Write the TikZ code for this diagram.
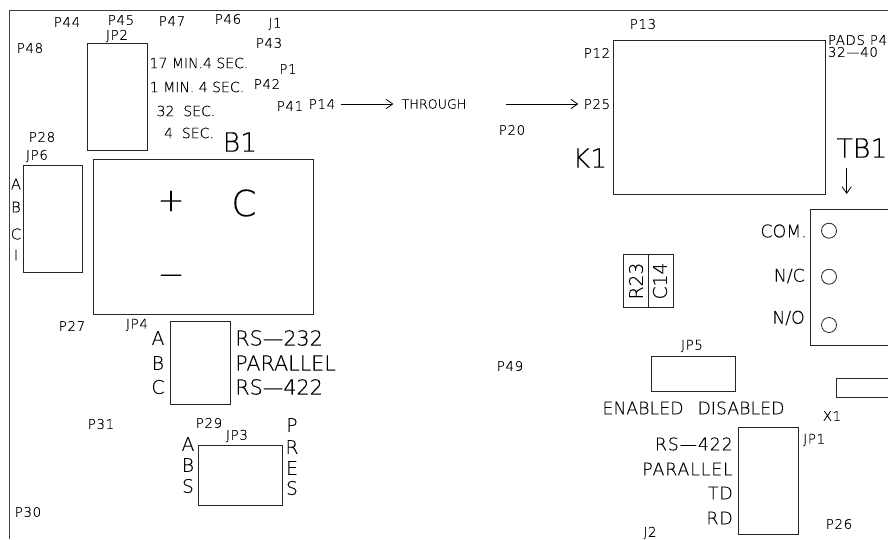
\documentclass[tikz,border=0pt]{standalone}
\usepackage{fontspec}
\setmainfont{DejaVu Sans ExtraLight}
\newfontfamily\cadwide[LetterSpace=5,FakeBold=0.15]{DejaVu Sans ExtraLight}
\newfontfamily\cadplain[FakeBold=0.15]{DejaVu Sans ExtraLight}
\usetikzlibrary{arrows.meta}
\tikzset{
  board/.style={draw=black!75, line width=0.7pt},
  partbox/.style={draw=black!85, line width=0.6pt},
  feed/.style={draw=black, line width=0.6pt, -{Straight Barb[length=5pt,width=7pt]}},
  tinylab/.style={inner sep=0pt, font=\cadwide\fontsize{10}{10}\selectfont},
  thrulab/.style={inner sep=0pt, font=\cadplain\fontsize{9.5}{9.5}\selectfont},
  jumplab/.style={inner sep=0pt, font=\cadplain\fontsize{10.5}{10.5}\selectfont},
  letterlab/.style={inner sep=0pt, font=\cadplain\fontsize{11}{11}\selectfont},
  midlab/.style={inner sep=0pt, font=\cadwide\fontsize{13}{13}\selectfont},
  enlab/.style={inner sep=0pt, font=\cadplain\fontsize{13}{13}\selectfont},
  sidelab/.style={inner sep=0pt, font=\cadplain\fontsize{14}{14}\selectfont},
  widelab/.style={inner sep=0pt, font=\cadplain\fontsize{15.5}{15.5}\selectfont},
  biglab/.style={inner sep=0pt, font=\cadplain\fontsize{20}{20}\selectfont},
  capclab/.style={inner sep=0pt, font=\cadplain\fontsize{27}{27}\selectfont},
  signlab/.style={inner sep=0pt, font=\cadplain\fontsize{24}{24}\selectfont}
}
\begin{document}
\begin{tikzpicture}[x=0.75pt, y=-0.75pt]
  \useasboundingbox (0,0) rectangle (888,539);

  % board edge
  \draw[board] (888,10) -- (9,10) -- (9,539);

  % boxes
  \draw[partbox] (87.5,43.5) rectangle (147.5,150.5);
  \draw[partbox] (23,165) rectangle (82.5,272.5);
  \draw[partbox] (93.5,159) rectangle (313,314);
  \draw[partbox] (170,321) rectangle (230,404.5);
  \draw[partbox] (198.5,445.5) rectangle (282.5,505);
  \draw[partbox] (613.5,40) rectangle (825.5,194);
  \draw[partbox] (888,209.5) -- (810.3,209.5) -- (810.3,345) -- (888,345);
  \draw[partbox] (623.7,254) rectangle (648,307.7);
  \draw[partbox] (648,254) rectangle (673,307.7);
  \draw[partbox] (651.3,356) rectangle (735.3,391.7);
  \draw[partbox] (888,378.3) -- (836.3,378.3) -- (836.3,397.3) -- (888,397.3);
  \draw[partbox] (738.3,427.3) rectangle (798.3,534.3);

  % terminals
  \draw[partbox] (829,230.7) circle (7.5);
  \draw[partbox] (829,276.7) circle (7.5);
  \draw[partbox] (829,325) circle (7.5);

  % top left pads
  \node[tinylab] (p44) at (67,22) {P44};
  \node[tinylab] (p45) at (121,20) {P45};
  \node[tinylab] (jp2) at (117,36) {JP2};
  \node[tinylab] (p47) at (172,21) {P47};
  \node[tinylab] (p46) at (228,19) {P46};
  \node[tinylab] (j1) at (275,24) {J1};
  \node[tinylab] (p43) at (269,43) {P43};
  \node[tinylab] (p48) at (30,48) {P48};
  \node[tinylab] (p1) at (288,69) {P1};
  \node[tinylab] (p42) at (267,84) {P42};
  \node[tinylab] (p41) at (290,106) {P41};
  \node[tinylab] (p14) at (322,104) {P14};
  \node[thrulab] (through) at (434,104) {THROUGH};
  \node[tinylab] (p28) at (42,137) {P28};
  \node[tinylab] (jp6) at (37,156) {JP6};

  % JP2 settings
  \node[jumplab] (min17) at (199,63) {17 MIN.4 SEC.};
  \node[jumplab] (min1) at (197,87) {1 MIN. 4 SEC.};
  \node[jumplab] (sec32) at (186,111) {32 \ SEC.};
  \node[jumplab] (sec4) at (189,133) {4 \ SEC.};

  % JP6 letters
  \node[letterlab] (jp6a) at (16,184) {A};
  \node[letterlab] (jp6b) at (16,207) {B};
  \node[letterlab] (jp6c) at (16,234) {C};
  \node[letterlab] (jp6i) at (16,255) {I};

  % B1
  \node[biglab] (b1) at (240,142) {B1};
  \node[capclab] (b1c) at (244,203) {C};
  \node[signlab] (plus) at (171,201) {+};
  \node[signlab] (minus) at (171,280) {−};

  % JP4
  \node[tinylab] (p27) at (72,326) {P27};
  \node[tinylab] (jp4) at (137,325) {JP4};
  \node[sidelab] (jp4a) at (158,338) {A};
  \node[sidelab] (jp4b) at (158,363) {B};
  \node[sidelab] (jp4c) at (158,387) {C};
  \node[widelab, anchor=west] (jp4x) at (235,338) {RS—232};
  \node[widelab, anchor=west] (jp4y) at (235,363) {PARALLEL};
  \node[widelab, anchor=west] (jp4z) at (235,387) {RS—422};

  % JP3
  \node[tinylab] (p31) at (101,424) {P31};
  \node[tinylab] (p29) at (209,423) {P29};
  \node[tinylab] (jp3) at (237,436) {JP3};
  \node[sidelab] (absa) at (188,444) {A};
  \node[sidelab] (absb) at (188,465) {B};
  \node[sidelab] (abss) at (188,486) {S};
  \node[sidelab] (presp) at (292,425) {P};
  \node[sidelab] (presr) at (292,447) {R};
  \node[sidelab] (prese) at (292,468) {E};
  \node[sidelab] (press) at (292,488) {S};
  \node[tinylab] (p30) at (28,512) {P30};

  % K1
  \node[tinylab] (p13) at (643,24) {P13};
  \node[tinylab] (p12) at (597,53) {P12};
  \node[tinylab] (p25) at (597,104) {P25};
  \node[tinylab] (p20) at (512,130) {P20};
  \node[biglab] (k1) at (590,158) {K1};
  \node[tinylab, anchor=west] (pads) at (827.7,40) {PADS P4};
  \node[tinylab, anchor=west] (pins) at (827.7,52) {32—40};

  % TB1
  \node[biglab] (tb1) at (862,148) {TB1};
  \node[enlab, anchor=east] (com) at (807,231) {COM.};
  \node[enlab, anchor=east] (nc) at (805,276) {N/C};
  \node[enlab, anchor=east] (no) at (805,318) {N/O};

  % small parts
  \node[sidelab, rotate=90] (r23) at (636,281) {R23};
  \node[sidelab, rotate=90] (c14) at (660,281) {C14};

  % JP5
  \node[tinylab] (jp5) at (692,346) {JP5};
  \node[enlab] (enabled) at (643,408) {ENABLED};
  \node[enlab] (disabled) at (741,408) {DISABLED};
  \node[tinylab] (x1) at (832,416) {X1};
  \node[tinylab] (p49) at (510,366) {P49};

  % JP1
  \node[midlab, anchor=east] (jp1x) at (733,444) {RS—422};
  \node[midlab, anchor=east] (jp1y) at (733,469) {PARALLEL};
  \node[midlab, anchor=east] (jp1z) at (733,493) {TD};
  \node[midlab, anchor=east] (jp1w) at (733,518) {RD};
  \node[tinylab, anchor=west] (jp1) at (803,440) {JP1};
  \node[tinylab] (p26) at (839,524) {P26};
  \node[tinylab] (j2) at (650,533) {J2};

  % arrows
  \coordinate (thruend) at (506,104);
  \coordinate (tb1tail) at (846.7,168);
  \coordinate (tb1tip) at (846.7,194);
  \draw[feed, shorten <=4pt, shorten >=6pt] (p14) -- (through);
  \draw[feed, shorten >=4pt] (thruend) -- (p25);
  \draw[feed] (tb1tail) -- (tb1tip);
\end{tikzpicture}
\end{document}
